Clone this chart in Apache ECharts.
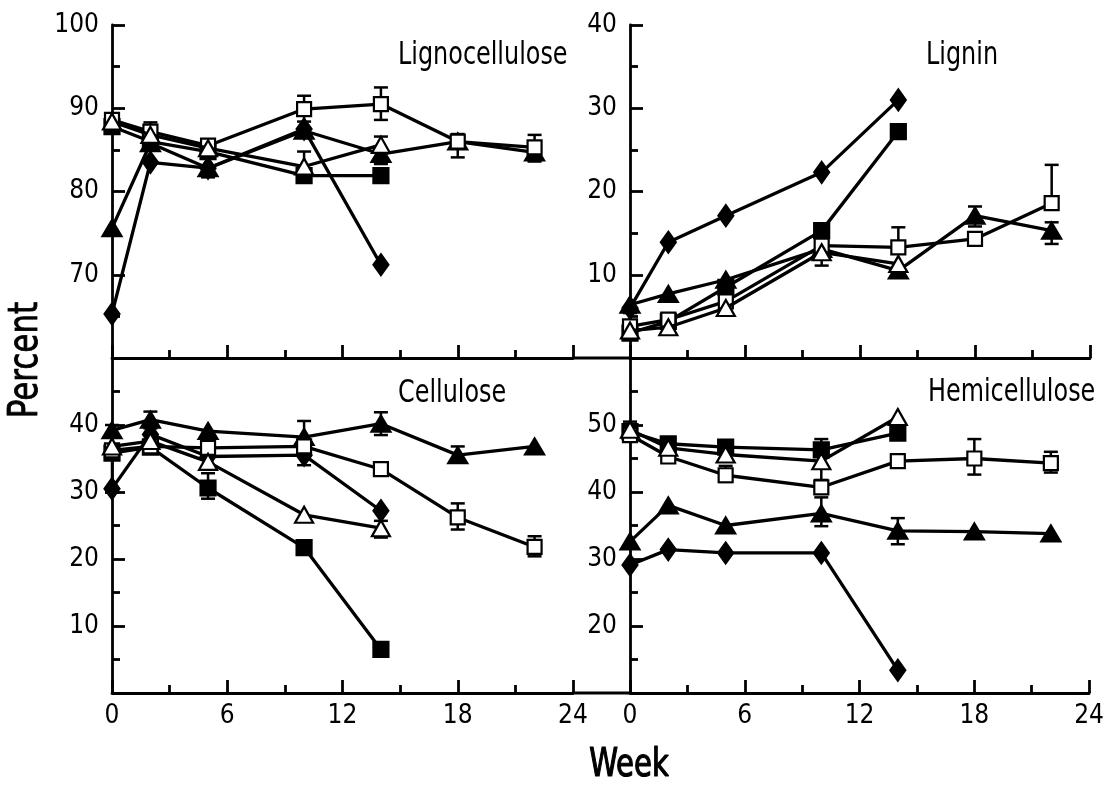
<!DOCTYPE html>
<html>
<head>
<meta charset="utf-8">
<script src="https://cdn.jsdelivr.net/npm/echarts@6/dist/echarts.min.js"></script>
<style>
html,body{margin:0;padding:0;background:#fff;}
#chart{width:1107px;height:787px;}
</style>
</head>
<body>
<div id="chart"></div>
<script>
// ---- data ----
const weeks = [0, 2, 5, 10, 14, 18, 22];
const xTicks = [0, 6, 12, 18, 24];

// Lignocellulose
const lignoFilledDiamond = [65.3, 83.5, 82.8, 87.5, 71.2];
const lignoFilledSquare  = [87.8, 86.0, 84.8, 81.9, 81.9];
const lignoOpenSquare    = [88.6, 87.2, 85.5, 89.9, 90.5, 86.0, 85.3];
const lignoOpenTriangle  = [88.4, 86.8, 85.2, 83.0, 85.6];
const lignoFilledTriangle= [75.6, 85.8, 82.8, 87.3, 84.5, 86.0, 84.7];
const lignoErr = [[2, 86.0, 88.3], [5, 81.7, 85.6], [10, 88.4, 91.5], [10, 81.5, 84.8], [14, 88.6, 92.5], [14, 83.3, 86.6], [18, 84.1, 86.9], [22, 83.6, 86.8]];

// Lignin
const ligninFilledDiamond = [6.0, 13.9, 17.1, 22.3, 31.0];
const ligninFilledSquare  = [3.0, 4.4, 8.5, 15.3, 27.2];
const ligninOpenSquare    = [3.8, 4.6, 6.8, 13.5, 13.3, 14.3, 18.6];
const ligninOpenTriangle  = [3.3, 3.7, 6.0, 12.7, 11.3];
const ligninFilledTriangle= [6.4, 7.7, 9.4, 13.1, 10.5, 17.1, 15.3];
const ligninErr = [[0, 2.6, 5.4], [10, 11.1, 13.5], [14, 13.3, 15.7], [18, 15.8, 18.2], [22, 18.7, 23.2], [22, 13.7, 16.3]];

// Cellulose
const celFilledDiamond = [30.5, 38.6, 35.3, 35.5, 27.2];
const celFilledSquare  = [35.8, 36.7, 30.6, 21.7, 6.5];
const celOpenSquare    = [36.2, 36.8, 36.6, 36.8, 33.4, 26.2, 21.8];
const celOpenTriangle  = [36.8, 37.6, 34.5, 26.6, 24.6];
const celFilledTriangle= [39.2, 40.8, 39.1, 38.2, 40.2, 35.5, 36.8];
const celErr = [[0, 29.9, 40.0], [2, 39.5, 42.0], [5, 29.0, 32.8], [10, 34.0, 40.6], [14, 38.5, 41.9], [14, 23.2, 25.7], [18, 34.8, 36.8], [18, 24.4, 28.3], [22, 20.4, 23.4]];

// Hemicellulose
const hemiFilledDiamond = [29.1, 31.4, 30.9, 30.9, 13.4];
const hemiFilledSquare  = [49.0, 47.2, 46.7, 46.3, 48.8];
const hemiOpenSquare    = [48.5, 45.3, 42.5, 40.7, 44.6, 45.0, 44.3];
const hemiOpenTriangle  = [49.3, 46.6, 45.6, 44.6, 51.2];
const hemiFilledTriangle= [32.6, 38.0, 35.0, 36.8, 34.2, 34.1, 33.8];
const hemiErr = [[0, 47.5, 50.5], [5, 41.5, 43.9], [10, 41.8, 47.9], [10, 34.9, 39.2], [14, 32.2, 36.1], [18, 42.6, 47.9], [22, 42.9, 46.0]];

const panelTitles = ['Lignocellulose', 'Lignin', 'Cellulose', 'Hemicellulose'];
const yRanges = [[60, 100], [0, 40], [0, 50], [10, 60]];

// ---- build ----
const FONT = "'DejaVu Sans Condensed', 'Liberation Sans Narrow', sans-serif";
const panels = [
  {series: [lignoFilledDiamond, lignoFilledSquare, lignoFilledTriangle, lignoOpenSquare, lignoOpenTriangle], err: lignoErr},
  {series: [ligninFilledDiamond, ligninFilledSquare, ligninFilledTriangle, ligninOpenSquare, ligninOpenTriangle], err: ligninErr},
  {series: [celFilledDiamond, celFilledSquare, celFilledTriangle, celOpenSquare, celOpenTriangle], err: celErr},
  {series: [hemiFilledDiamond, hemiFilledSquare, hemiFilledTriangle, hemiOpenSquare, hemiOpenTriangle], err: hemiErr}
];
const markers = [
  {symbol: 'diamond', size: [15, 21], fill: '#000'},
  {symbol: 'rect', size: [15, 15], fill: '#000'},
  {symbol: 'triangle', size: [19, 16], fill: '#000'},
  {symbol: 'rect', size: [14, 14], fill: '#fff'},
  {symbol: 'triangle', size: [18, 16], fill: '#fff'}
];

const gridPos = [
  {left: 112, top: 25, width: 461, height: 333},
  {left: 630, top: 25, width: 460, height: 333},
  {left: 112, top: 358, width: 461, height: 335},
  {left: 630, top: 358, width: 460, height: 335}
];

const axisLineStyle = {color: '#000', width: 2.8};
const xAxes = gridPos.map((g, i) => ({
  type: 'value', gridIndex: i, min: xTicks[0], max: xTicks[xTicks.length - 1], interval: xTicks[1] - xTicks[0],
  axisLine: {onZero: false, lineStyle: axisLineStyle},
  axisTick: {inside: true, length: 13, lineStyle: axisLineStyle},
  minorTick: {show: true, splitNumber: 2, length: 8, lineStyle: axisLineStyle},
  splitLine: {show: false}, minorSplitLine: {show: false},
  axisLabel: {show: i >= 2, color: '#000', fontSize: 26, fontFamily: FONT, margin: 10}
}));
const yAxes = gridPos.map((g, i) => ({
  type: 'value', gridIndex: i, min: yRanges[i][0], max: yRanges[i][1], interval: 10,
  axisLine: {onZero: false, lineStyle: axisLineStyle},
  axisTick: {inside: true, length: 13, lineStyle: axisLineStyle},
  minorTick: {show: true, splitNumber: 2, length: 8, lineStyle: axisLineStyle},
  splitLine: {show: false}, minorSplitLine: {show: false},
  axisLabel: {color: '#000', fontSize: 26, fontFamily: FONT, margin: 13, showMinLabel: false, showMaxLabel: i < 2}
}));

const series = [];
panels.forEach((p, pi) => {
  series.push({
    type: 'custom', xAxisIndex: pi, yAxisIndex: pi, z: 1, clip: false,
    data: p.err,
    encode: {x: 0, y: [1, 2]},
    renderItem: function (params, api) {
      const x = api.value(0);
      const lo = api.coord([x, api.value(1)]);
      const hi = api.coord([x, api.value(2)]);
      const hw = 7;
      const st = {stroke: '#000', lineWidth: 2.5};
      return {type: 'group', children: [
        {type: 'line', shape: {x1: lo[0], y1: lo[1], x2: hi[0], y2: hi[1]}, style: st},
        {type: 'line', shape: {x1: lo[0] - hw, y1: lo[1], x2: lo[0] + hw, y2: lo[1]}, style: st},
        {type: 'line', shape: {x1: hi[0] - hw, y1: hi[1], x2: hi[0] + hw, y2: hi[1]}, style: st}
      ]};
    }
  });
  p.series.forEach((vals, si) => {
    const m = markers[si];
    series.push({
      type: 'line', xAxisIndex: pi, yAxisIndex: pi, z: 2 + si, clip: false,
      data: vals.map((v, k) => [weeks[k], v]),
      symbol: m.symbol, symbolSize: m.size, showAllSymbol: true,
      lineStyle: {color: '#000', width: 3.3},
      itemStyle: {color: m.fill, borderColor: '#000', borderWidth: 2.2},
      emphasis: {disabled: true},
      animation: false
    });
  });
});

const titlePos = [[398, 56], [926, 56], [398, 394], [928, 393]];
const graphic = panelTitles.map((t, i) => ({
  type: 'text', x: titlePos[i][0], y: titlePos[i][1], scaleX: 0.83,
  style: {text: t, font: '32px ' + FONT, fill: '#000', align: 'left', verticalAlign: 'middle'}
}));
graphic.push({type: 'text', x: 27, y: 360, rotation: Math.PI / 2, scaleX: 0.86,
  style: {text: 'Percent', font: '40px ' + FONT, fill: '#000', stroke: '#000', lineWidth: 0.8, align: 'center', verticalAlign: 'middle'}});
graphic.push({type: 'text', x: 629, y: 766, scaleX: 0.83,
  style: {text: 'Week', font: '39px ' + FONT, fill: '#000', stroke: '#000', lineWidth: 1.2, align: 'center', verticalAlign: 'middle'}});
// continuity of the shared frame lines between the two panels
graphic.push({type: 'line', shape: {x1: 572, y1: 358, x2: 631, y2: 358}, style: {stroke: '#000', lineWidth: 2.8}});
graphic.push({type: 'line', shape: {x1: 572, y1: 693, x2: 631, y2: 693}, style: {stroke: '#000', lineWidth: 2.8}});

const chart = echarts.init(document.getElementById('chart'), null, {renderer: 'canvas'});
chart.setOption({
  animation: false,
  backgroundColor: '#fff',
  grid: gridPos,
  xAxis: xAxes,
  yAxis: yAxes,
  series: series,
  graphic: graphic
});
</script>
</body>
</html>
